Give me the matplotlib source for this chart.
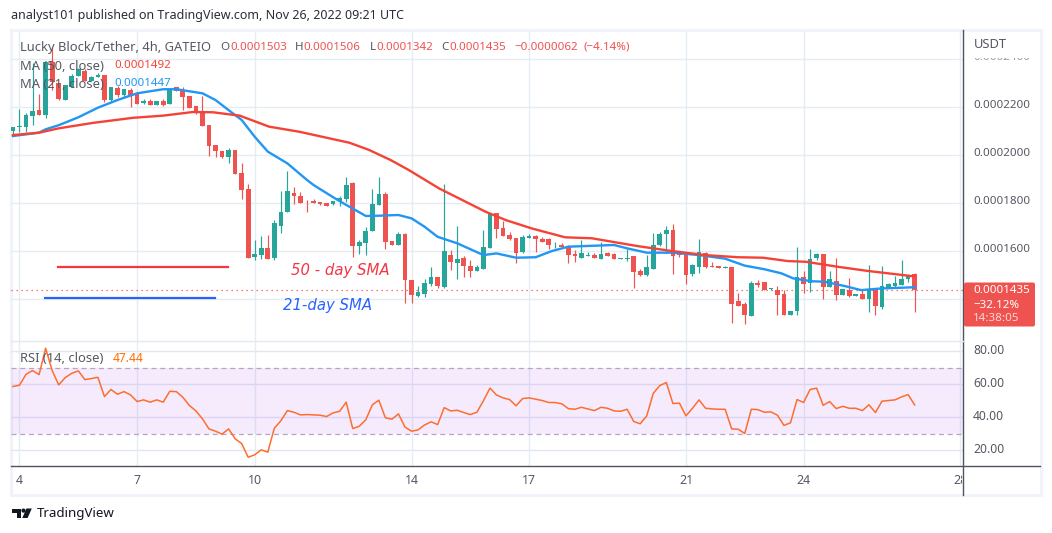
import numpy as np
from matplotlib import pyplot as plt
from matplotlib.patches import Rectangle, FancyBboxPatch, Polygon, Circle
from matplotlib.transforms import Bbox

# candles, prices in units of 1e-7
opens = [2099, 2113, 2116, 2160, 2185, 2165, 2387, 2296, 2227, 2280, 2327, 2349, 2306, 2324, 2333, 2227, 2276, 2248, 2269, 2251,
         2216, 2223, 2208, 2223, 2212, 2280, 2269, 2244, 2202, 2174, 2123, 2040, 2015, 1991, 2019, 1923, 1856, 1574, 1583, 1610,
         1569, 1703, 1762, 1840, 1827, 1807, 1807, 1802, 1798, 1794, 1806, 1815, 1880, 1619, 1632, 1682, 1791, 1835, 1640, 1623,
         1669, 1477, 1410, 1419, 1459, 1491, 1447, 1581, 1549, 1570, 1535, 1515, 1523, 1610, 1755, 1694, 1665, 1652, 1593, 1653,
         1660, 1649, 1649, 1622, 1623, 1619, 1584, 1569, 1578, 1581, 1565, 1590, 1585, 1566, 1566, 1577, 1515, 1498, 1523, 1623,
         1669, 1685, 1591, 1585, 1502, 1533, 1588, 1535, 1535, 1527, 1531, 1390, 1377, 1327, 1465, 1469, 1440, 1435, 1419, 1331,
         1348, 1490, 1465, 1569, 1585, 1448, 1473, 1415, 1435, 1410, 1419, 1398, 1440, 1365, 1444, 1452, 1456, 1481, 1503]
highs = [2113, 2190, 2174, 2383, 2251, 2387, 2449, 2296, 2290, 2335, 2360, 2355, 2327, 2340, 2333, 2280, 2285, 2273, 2276, 2255,
         2230, 2233, 2223, 2230, 2269, 2283, 2280, 2244, 2202, 2245, 2123, 2040, 2015, 2026, 2019, 1965, 1877, 1644, 1660, 1665,
         1727, 1848, 1931, 1865, 1844, 1810, 1815, 1804, 1798, 1808, 1827, 1906, 1885, 1644, 1699, 1856, 1907, 1844, 1640, 1678,
         1673, 1477, 1452, 1480, 1533, 1491, 1877, 1602, 1702, 1577, 1560, 1540, 1685, 1755, 1757, 1724, 1677, 1652, 1663, 1669,
         1663, 1655, 1653, 1634, 1630, 1623, 1602, 1644, 1594, 1588, 1634, 1593, 1591, 1569, 1608, 1577, 1523, 1581, 1674, 1677,
         1703, 1710, 1595, 1585, 1542, 1648, 1594, 1553, 1535, 1535, 1531, 1423, 1385, 1473, 1477, 1469, 1444, 1452, 1435, 1348,
         1615, 1515, 1606, 1590, 1585, 1515, 1569, 1440, 1485, 1419, 1435, 1540, 1440, 1535, 1465, 1494, 1560, 1498, 1506]
lows = [2081, 2095, 2095, 2123, 2165, 2151, 2269, 2227, 2227, 2280, 2327, 2306, 2306, 2324, 2220, 2220, 2241, 2238, 2196, 2212,
        2210, 2206, 2208, 2202, 2212, 2266, 2185, 2194, 2170, 2120, 1994, 1991, 1987, 1966, 1919, 1815, 1570, 1560, 1565, 1565,
        1560, 1674, 1760, 1794, 1798, 1762, 1798, 1790, 1787, 1790, 1787, 1802, 1574, 1585, 1581, 1682, 1791, 1606, 1623, 1623,
        1382, 1381, 1405, 1405, 1452, 1445, 1445, 1519, 1482, 1488, 1488, 1515, 1523, 1610, 1652, 1660, 1644, 1549, 1590, 1652,
        1594, 1635, 1606, 1612, 1615, 1549, 1552, 1569, 1578, 1570, 1565, 1577, 1565, 1566, 1556, 1445, 1495, 1495, 1523, 1620,
        1588, 1502, 1573, 1460, 1495, 1506, 1527, 1531, 1527, 1527, 1298, 1369, 1294, 1327, 1448, 1435, 1436, 1331, 1331, 1331,
        1331, 1423, 1427, 1560, 1398, 1448, 1394, 1415, 1406, 1410, 1398, 1344, 1331, 1356, 1444, 1444, 1456, 1469, 1342]
closes = [2113, 2119, 2165, 2181, 2165, 2387, 2303, 2230, 2290, 2328, 2355, 2306, 2324, 2333, 2227, 2280, 2248, 2273, 2248, 2212,
          2223, 2206, 2221, 2205, 2269, 2266, 2240, 2194, 2174, 2120, 2037, 2015, 1991, 2019, 1919, 1852, 1570, 1585, 1610, 1566,
          1716, 1760, 1848, 1828, 1799, 1805, 1799, 1795, 1787, 1805, 1817, 1873, 1619, 1637, 1682, 1794, 1835, 1637, 1623, 1669,
          1477, 1415, 1428, 1466, 1491, 1452, 1599, 1553, 1565, 1535, 1515, 1533, 1613, 1752, 1690, 1660, 1647, 1590, 1655, 1660,
          1649, 1635, 1623, 1624, 1615, 1581, 1577, 1590, 1581, 1570, 1585, 1577, 1565, 1569, 1570, 1512, 1498, 1531, 1623, 1669,
          1685, 1577, 1581, 1498, 1540, 1592, 1531, 1531, 1527, 1531, 1377, 1369, 1331, 1465, 1456, 1435, 1444, 1415, 1331, 1348,
          1490, 1460, 1565, 1585, 1448, 1481, 1415, 1440, 1410, 1419, 1398, 1441, 1369, 1452, 1460, 1465, 1481, 1498, 1435]
candle_start = -1

sma21_x = [-1, 3, 4, 6, 9, 12, 15, 18, 22, 24, 28, 30, 32, 34, 36, 38, 41, 44, 45, 48, 50, 53, 55, 58, 60, 62, 64, 67, 71, 73, 76, 79,
           81.5, 84, 88, 91, 93, 96, 100, 104, 108, 111, 114, 116.6, 118.4, 121.2, 123.2, 126.3, 128.8, 131.9, 137]
sma21 = [2077, 2091, 2105, 2122, 2155, 2195, 2227, 2255, 2272, 2272, 2255, 2227, 2185, 2144, 2074, 2012, 1963, 1894, 1873, 1822, 1790, 1744, 1745, 1748, 1734, 1699, 1657, 1630, 1581, 1588, 1570, 1572,
         1598, 1616, 1620, 1623, 1609, 1591, 1591, 1581, 1566, 1537, 1522, 1505, 1484, 1472, 1470, 1452, 1435, 1442, 1447]
sma50_x = [-1, 3, 6, 11.3, 17.4, 22, 26.5, 29.6, 33.7, 38.2, 42.8, 50.5, 53.5, 56.8, 59.6, 64.2, 68.3, 71.3, 74.4, 78.4, 83.5, 87.6, 92.1, 94.7,
           99.8, 104.9, 110, 113.8, 117.6, 120.4, 125.3, 129.8, 137]
sma50 = [2081, 2091, 2109, 2132, 2153, 2162, 2177, 2176, 2162, 2116, 2095, 2049, 2019, 1977, 1935, 1859, 1803, 1762, 1727, 1692, 1655, 1651, 1630, 1618,
         1598, 1581, 1572, 1570, 1556, 1553, 1532, 1515, 1492]

rsi = [58.6, 59.4, 66.0, 68.3, 65.8, 81.8, 68.3, 59.6, 64.0, 66.6, 68.1, 62.8, 63.4, 64.2, 52.5, 56.8, 53.9, 55.5, 53.5, 49.5,
       50.5, 49.1, 50.5, 49.1, 55.7, 55.5, 52.1, 47.1, 43.8, 39.0, 32.9, 31.5, 29.7, 32.9, 26.9, 24.0, 15.7, 17.2, 20.2, 18.8,
       33.3, 37.8, 44.0, 43.0, 41.4, 41.6, 41.4, 41.2, 40.4, 42.6, 43.6, 49.1, 33.1, 34.5, 38.4, 47.5, 50.3, 39.6, 38.8, 42.0,
       34.0, 31.5, 32.3, 35.3, 37.2, 35.5, 45.8, 43.8, 44.2, 42.8, 41.6, 43.0, 49.9, 57.6, 53.5, 51.7, 50.7, 46.9, 51.3, 51.7,
       50.9, 50.1, 48.9, 48.9, 48.1, 45.2, 44.8, 46.0, 45.0, 44.0, 46.0, 45.4, 43.8, 43.6, 44.8, 37.4, 36.0, 40.8, 54.5, 59.2,
       61.0, 48.3, 48.5, 40.8, 45.4, 50.5, 45.4, 45.0, 44.8, 44.8, 32.9, 32.7, 30.1, 44.8, 44.6, 43.0, 43.2, 41.2, 35.0, 36.6,
       50.7, 48.9, 56.8, 57.6, 47.2, 49.5, 45.2, 46.6, 45.4, 45.4, 44.0, 47.5, 42.8, 49.7, 50.1, 50.5, 52.3, 53.7, 47.44]

day_ticks = [0, 18, 36, 60, 78, 102, 120, 144]
day_labels = ['4', '7', '10', '14', '17', '21', '24', '28']
price_ticks = [1400, 1600, 1800, 2000, 2200, 2400]
price_labels = ['', '0.0001600', '0.0001800', '0.0002000', '0.0002200', '0.0002400']
rsi_ticks = [20, 40, 60, 80]
rsi_labels = ['20.00', '40.00', '60.00', '80.00']
last_price = 1435
note_50_x, note_50_y = [5.9, 31.9], 1531
note_21_x, note_21_y = [3.9, 29.9], 1403

GREEN = '#26a69a'
RED = '#ef5350'
GRID = '#e4edf4'
TEXT = '#555861'
FS = 9.3    # letters
FN = 8.35   # long numbers
W, H = 1052, 533
plt.rcParams['font.family'] = ['Noto Sans', 'DejaVu Sans']


def px_axes(x0, y0, x1, y1, **kw):
    # axes from pixel box, y counted from the top
    return fig.add_axes([x0 / W, 1 - y1 / H, (x1 - x0) / W, (y1 - y0) / H], **kw)


fig = plt.figure(figsize=(W / 100, H / 100), dpi=100, facecolor='white')

# overlay in pixels for frame and header text
bg = fig.add_axes([0, 0, 1, 1], zorder=0)
bg.set_xlim(0, W)
bg.set_ylim(H, 0)
bg.axis('off')

top = fig.add_axes([0, 0, 1, 1], zorder=5)
top.set_xlim(0, W)
top.set_ylim(H, 0)
top.axis('off')
top.patch.set_alpha(0)

ax = px_axes(11, 31, 963, 341, zorder=2)
rs = px_axes(11, 341, 963, 465.5, zorder=2)
for a in (ax, rs):
    a.set_xlim(-1.3, 144.4)
    a.patch.set_alpha(0)
    for s in a.spines.values():
        s.set_visible(False)
    a.set_xticks(day_ticks)
    a.set_xticklabels([])
    a.tick_params(length=0)
    a.set_yticks([])
    a.set_axisbelow(True)
    a.grid(True, axis='x', color=GRID, lw=1)

# main pane
ax.set_ylim(1223, 2514.6)
for p in price_ticks:
    ax.axhline(p, color=GRID, lw=1, zorder=0.5)

opens_a, highs_a, lows_a, closes_a = map(np.array, (opens, highs, lows, closes))
xs = np.arange(len(opens)) + candle_start
up = closes_a >= opens_a
colors = [GREEN if u else RED for u in up]
ax.vlines(xs, lows_a, highs_a, colors=colors, lw=0.85, zorder=2)
ax.bar(xs, np.abs(closes_a - opens_a), bottom=np.minimum(opens_a, closes_a), width=0.72, color=colors, lw=0, zorder=2.1)
ax.plot(sma21_x, sma21, color='#2196f3', lw=1.7, zorder=3)
ax.plot(sma50_x, sma50, color='#f44336', lw=1.7, zorder=3.1)
ax.axhline(last_price, color=RED, lw=0.9, ls=(0, (1, 3)), zorder=1.5)

# drawings on the chart
ax.plot(note_50_x, [note_50_y] * 2, color='#f23645', lw=1.6, zorder=3)
ax.plot(note_21_x, [note_21_y] * 2, color='#2962ff', lw=1.6, zorder=3)
top.text(291, 270, '50 - day SMA', color='#f23645', fontsize=10.7, style='italic', va='center', family='DejaVu Sans')
top.text(283, 305.5, '21-day SMA', color='#2962ff', fontsize=10.7, style='italic', va='center', family='DejaVu Sans')

# rsi pane
rs.set_ylim(10.7, 86.2)
for v in rsi_ticks:
    rs.axhline(v, color='#e2e6f0', lw=1, zorder=0.5)
rs.axhspan(30, 70, facecolor='#a53cf5', alpha=0.1, lw=0, zorder=1)
for v in (30, 70):
    rs.axhline(v, color='#b5a6c2', lw=0.9, ls=(0, (4, 3)), zorder=1.2)
rs.plot(np.arange(len(rsi)) + candle_start, rsi, color='#ff6d2e', lw=1.1, zorder=3)

# frame and pane borders
bg.add_patch(Rectangle((11, 30), 1030, 465, fc='white', ec='#f0f3fa', lw=2.2))
top.plot([963.3, 963.3], [30, 495], color='#50535e', lw=1)
top.plot([11, 1040], [465.7, 465.7], color='#50535e', lw=1)
top.plot([11, 963], [341, 341], color='#e6e8ee', lw=1)

# x labels, the last one runs under the price scale
for d, lab in zip(day_ticks, day_labels):
    t = rs.annotate(lab, (d, 0), xycoords=rs.get_xaxis_transform(), xytext=(0, -15.5), textcoords='offset pixels',
                    ha='center', va='center', fontsize=8.9, color=TEXT)
    t.set_clip_box(Bbox([[0, 0], [962, H]]))
    t.set_clip_on(True)

# price scale
for p, lab in zip(price_ticks, price_labels):
    if not lab:
        continue
    y = ax.transData.transform((0, p))[1]
    t = top.text(973, H - y - 1, lab, fontsize=FN, color=TEXT, va='center', ha='left')
    if p == 2400:
        t.set_alpha(0.6)
        t.set_clip_box(Bbox([[960, 0], [1040, H - 57.5]]))
        t.set_clip_on(True)
top.text(974, 44, 'USDT', fontsize=FS, color=TEXT, va='center', ha='left')
for v, lab in zip(rsi_ticks, rsi_labels):
    y = rs.transData.transform((0, v))[1]
    top.text(973, H - y - 0.5, lab, fontsize=8.7, color=TEXT, va='center', ha='left')

# last price tag
top.add_patch(FancyBboxPatch((964, 282.5), 71, 44, boxstyle='round,pad=0,rounding_size=2', fc=RED, ec='none', zorder=3))
top.text(973, 290.5, '0.0001435', color='white', fontsize=FN, va='center', zorder=4)
top.text(973, 305, '\u221232.12%', color='white', fontsize=FN, va='center', zorder=4)
top.text(973, 318.5, '14:38:05', color='#ffd5d4', fontsize=FN, va='center', zorder=4)

# titles
top.text(11, 16, 'analyst101 published on TradingView.com, Nov 26, 2022 09:21 UTC', color='#2a2e39', fontsize=9.0, va='center')
top.text(20, 47, 'Lucky Block/Tether, 4h, GATEIO', color=TEXT, fontsize=FS, va='center')
for x, s, c in [(220, 'O', TEXT), (230, '0.0001503', RED), (295, 'H', TEXT), (303.5, '0.0001506', RED), (369.5, 'L', TEXT),
                (376, '0.0001342', RED), (441, 'C', TEXT), (449, '0.0001435', RED), (514, '\u22120.0000062', RED), (583, '(\u22124.14%)', RED)]:
    top.text(x, 47, s, color=c, fontsize=FN, va='center')
top.text(20, 66, 'MA (50, close)', color=TEXT, fontsize=FS, va='center')
top.text(114, 66, '0.0001492', color='#f44336', fontsize=FN, va='center')
top.text(20, 84, 'MA (21, close)', color=TEXT, fontsize=FS, va='center')
top.text(114, 84, '0.0001447', color='#2196f3', fontsize=FN, va='center')
top.text(20, 358.5, 'RSI (14, close)', color=TEXT, fontsize=FS, va='center')
top.text(113, 358.5, '47.44', color='#ff6d00', fontsize=8.7, va='center')

# logo
logo = '#131722'
top.add_patch(Polygon([(12, 508.5), (21, 508.5), (21, 518), (16.5, 518), (16.5, 512.7), (12, 512.7)], fc=logo, ec='none'))
top.add_patch(Circle((23.5, 510.6), 2.1, fc=logo, ec='none'))
top.add_patch(Polygon([(31.8, 508.5), (27.6, 518), (22.3, 518), (26.4, 508.5)], fc=logo, ec='none'))
top.text(37, 514, 'TradingView', color='#131722', fontsize=9.6, va='center')

fig.savefig('out.png', dpi=100)
plt.close(fig)
